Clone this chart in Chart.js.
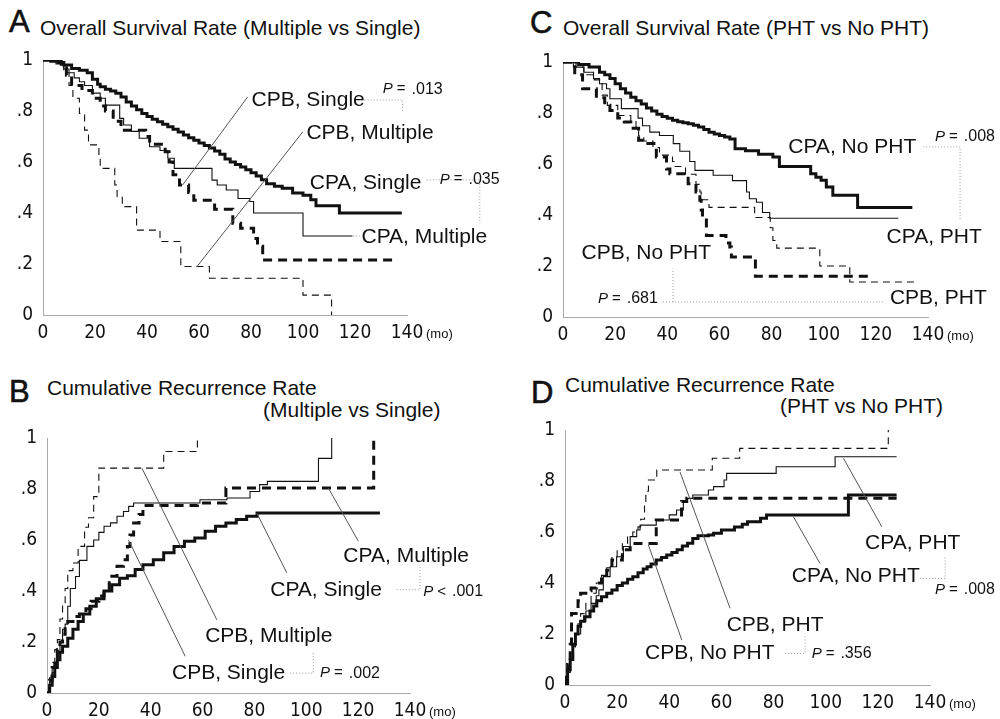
<!DOCTYPE html>
<html><head><meta charset="utf-8">
<script src="https://cdn.jsdelivr.net/npm/chart.js@4/dist/chart.umd.min.js"></script>
<style>
body{margin:0;background:#fff;width:1000px;height:719px;overflow:hidden;position:relative;font-family:"Liberation Sans",Arial,sans-serif;color:#111}
canvas{position:absolute}
.t{position:absolute;white-space:nowrap;font-size:21px;line-height:21px}
.L{position:absolute;font-size:31px;line-height:31px;-webkit-text-stroke:0.6px #111}
</style></head><body>
<div class="L" style="left:9px;top:6px">A</div>
<div class="t" style="left:40px;top:17px">Overall Survival Rate (Multiple vs Single)</div>
<div class="L" style="left:530px;top:7px">C</div>
<div class="t" style="left:563px;top:17px">Overall Survival Rate (PHT vs No PHT)</div>
<div class="L" style="left:9px;top:376px">B</div>
<div class="t" style="left:47px;top:377px">Cumulative Recurrence Rate</div>
<div class="t" style="left:263px;top:399px">(Multiple vs Single)</div>
<div class="L" style="left:531px;top:377px">D</div>
<div class="t" style="left:565px;top:374px">Cumulative Recurrence Rate</div>
<div class="t" style="left:780px;top:395px">(PHT vs No PHT)</div>
<canvas id="cA" width="500" height="360" style="left:0;top:0"></canvas>
<canvas id="cC" width="500" height="360" style="left:500px;top:0"></canvas>
<canvas id="cB" width="500" height="359" style="left:0;top:360px"></canvas>
<canvas id="cD" width="500" height="359" style="left:500px;top:360px"></canvas>
<script>
// ---------- tick labels ----------
const xTickValues = [0, 20, 40, 60, 80, 100, 120, 140];
const xTickLabels = ['0', '20', '40', '60', '80', '100', '120', '140'];
const yTickLabels = ['0', '.2', '.4', '.6', '.8', '1'];

// ---------- Panel A: Overall survival (Multiple vs Single) ----------
const A_cpaSingle_t = [0, 3, 6, 8, 11, 14, 17, 19, 21, 22, 24, 26, 28, 30, 32, 34, 36, 38, 40, 42, 44, 46, 48, 50, 52, 54, 56, 58, 60, 62, 64, 66, 68, 70, 72, 74, 76, 78, 80, 82, 84, 86, 89, 92, 96, 100, 103, 105, 114, 138];
const A_cpaSingle_v = [1, 0.995, 0.99, 0.98, 0.967, 0.96, 0.95, 0.925, 0.905, 0.895, 0.885, 0.878, 0.87, 0.855, 0.835, 0.82, 0.805, 0.79, 0.778, 0.768, 0.758, 0.748, 0.738, 0.728, 0.718, 0.706, 0.695, 0.685, 0.675, 0.665, 0.655, 0.643, 0.63, 0.612, 0.6, 0.59, 0.58, 0.57, 0.558, 0.545, 0.53, 0.515, 0.505, 0.497, 0.478, 0.47, 0.452, 0.428, 0.40, 0.40];
const A_cpaMulti_t = [0, 5, 8, 10, 12, 14, 16, 19, 22, 24, 29.5, 31, 34, 37, 41, 45, 48, 50.5, 65, 67, 70.5, 75, 79.5, 81, 100, 119];
const A_cpaMulti_v = [1, 0.985, 0.965, 0.95, 0.93, 0.915, 0.90, 0.87, 0.85, 0.823, 0.771, 0.745, 0.72, 0.693, 0.66, 0.645, 0.615, 0.575, 0.529, 0.51, 0.49, 0.457, 0.445, 0.40, 0.31, 0.31];
const A_cpbSingle_t = [0, 7, 9, 11, 15, 19, 22, 24, 27, 30, 39.5, 41, 47, 48.5, 50, 52.5, 56, 58, 66, 73, 76, 81, 82.5, 84.5, 136];
const A_cpbSingle_v = [1, 0.97, 0.94, 0.90, 0.88, 0.85, 0.82, 0.80, 0.76, 0.725, 0.70, 0.67, 0.64, 0.60, 0.55, 0.51, 0.48, 0.45, 0.415, 0.36, 0.34, 0.30, 0.27, 0.216, 0.216];
const A_cpbMulti_t = [0, 8, 10, 11.5, 14, 16, 17.5, 21.5, 22, 27.6, 28.5, 30.5, 36, 45, 53, 64, 100, 111];
const A_cpbMulti_v = [1, 0.95, 0.90, 0.85, 0.79, 0.725, 0.667, 0.62, 0.575, 0.51, 0.464, 0.425, 0.333, 0.288, 0.19, 0.144, 0.078, 0];

// ---------- Panel B: Cumulative recurrence (Multiple vs Single) ----------
const B_cpaSingle_t = [0, 1, 2, 3, 4, 5, 6, 8, 10, 12, 14, 16.5, 19, 22, 25, 28, 31, 34, 37, 41, 45, 49, 53, 57, 61, 65, 69, 73, 77, 81, 128.4];
const B_cpaSingle_v = [0, 0.03, 0.065, 0.1, 0.13, 0.16, 0.183, 0.215, 0.25, 0.28, 0.31, 0.34, 0.37, 0.40, 0.425, 0.45, 0.46, 0.484, 0.503, 0.523, 0.55, 0.575, 0.595, 0.608, 0.634, 0.654, 0.667, 0.68, 0.693, 0.706, 0.706];
const B_cpaMulti_t = [0, 1, 2, 3, 4, 5, 6, 7, 8, 9, 11, 12.5, 15.4, 18, 20, 22, 24.5, 27, 29.5, 31.5, 33.4, 59, 69.4, 78.3, 82, 85, 104.7, 109.8];
const B_cpaMulti_v = [0, 0.04, 0.08, 0.12, 0.16, 0.2, 0.25, 0.27, 0.34, 0.41, 0.457, 0.52, 0.575, 0.6, 0.63, 0.654, 0.667, 0.693, 0.712, 0.732, 0.745, 0.758, 0.765, 0.79, 0.817, 0.83, 0.92, 1.0];
const B_cpbSingle_t = [0, 1, 2, 3, 4, 5, 6, 7, 8, 10, 12.5, 15, 17, 20, 22, 24, 25, 27, 29.5, 31, 32, 33.4, 35.5, 37, 58, 69, 126];
const B_cpbSingle_v = [0, 0.05, 0.1, 0.13, 0.17, 0.2, 0.23, 0.26, 0.28, 0.30, 0.31, 0.33, 0.36, 0.38, 0.405, 0.44, 0.458, 0.497, 0.523, 0.575, 0.62, 0.667, 0.70, 0.735, 0.745, 0.804, 0.99];
const B_cpbMulti_t = [0, 1, 2, 3, 4, 5, 6, 7, 8, 10, 12, 14.5, 16, 18, 20, 45, 58];
const B_cpbMulti_v = [0, 0.06, 0.12, 0.17, 0.21, 0.29, 0.35, 0.41, 0.48, 0.51, 0.575, 0.65, 0.687, 0.77, 0.882, 0.947, 1.0];

// ---------- Panel C: Overall survival (PHT vs No PHT) ----------
const C_cpaNo_t = [0, 6, 10, 14, 16, 18, 20, 22, 24, 26, 28, 30, 32, 34, 36, 38, 40, 42, 44, 46, 48, 50, 52, 54, 56, 58, 60, 62, 64, 66, 70, 75, 80.5, 83, 95, 97, 99, 101, 103.5, 113, 134];
const C_cpaNo_v = [1, 0.99, 0.98, 0.96, 0.95, 0.935, 0.915, 0.895, 0.878, 0.862, 0.848, 0.835, 0.82, 0.808, 0.795, 0.786, 0.779, 0.772, 0.766, 0.762, 0.758, 0.752, 0.745, 0.735, 0.725, 0.718, 0.712, 0.706, 0.698, 0.66, 0.652, 0.638, 0.627, 0.59, 0.562, 0.548, 0.536, 0.51, 0.477, 0.429, 0.429];
const C_cpaPHT_t = [0, 5, 8, 11.7, 14, 16.7, 18, 22.4, 28.8, 30.5, 33.3, 37, 42.3, 44.8, 48.6, 50.6, 57.6, 65, 70.4, 71.5, 74.2, 76.5, 79.3, 128.6];
const C_cpaPHT_v = [1, 0.98, 0.96, 0.935, 0.915, 0.895, 0.856, 0.817, 0.78, 0.75, 0.725, 0.712, 0.68, 0.65, 0.61, 0.575, 0.556, 0.535, 0.49, 0.464, 0.45, 0.41, 0.387, 0.387];
const C_cpbNo_t = [0, 4.5, 7.5, 12.8, 16, 18, 21, 23.5, 26, 29, 31, 35.8, 39.7, 41, 48, 51, 52.5, 53, 53.5, 55, 62.5, 64, 64.6, 73.8, 119];
const C_cpbNo_v = [1, 0.95, 0.895, 0.86, 0.83, 0.81, 0.78, 0.765, 0.74, 0.693, 0.68, 0.627, 0.58, 0.562, 0.523, 0.49, 0.458, 0.42, 0.386, 0.32, 0.29, 0.275, 0.235, 0.16, 0.16];
const C_cpbPHT_t = [0, 4, 8, 12, 15, 17, 21, 26, 28, 29, 31, 34.5, 37, 42, 43, 47, 51, 52.5, 53, 56, 73.5, 79.5, 80.5, 82, 98.5, 110, 135];
const C_cpbPHT_v = [1, 0.98, 0.95, 0.93, 0.87, 0.83, 0.79, 0.77, 0.73, 0.71, 0.69, 0.665, 0.635, 0.61, 0.59, 0.56, 0.52, 0.49, 0.46, 0.43, 0.39, 0.35, 0.30, 0.27, 0.20, 0.137, 0.137];

// ---------- Panel D: Cumulative recurrence (PHT vs No PHT) ----------
const D_cpaNo_t = [0, 0.5, 1, 2, 3, 4, 5, 6, 7.5, 9.6, 11, 12.2, 14, 16, 18, 20, 22, 24, 26, 28, 30, 31.5, 33, 35, 37, 39, 41, 43, 45, 47, 49, 51, 55, 57, 60, 65, 68, 70, 75, 77.3, 108.7, 127.2];
const D_cpaNo_v = [0, 0.03, 0.06, 0.1, 0.16, 0.2, 0.23, 0.25, 0.268, 0.29, 0.31, 0.33, 0.346, 0.36, 0.373, 0.39, 0.40, 0.415, 0.425, 0.44, 0.455, 0.464, 0.475, 0.49, 0.50, 0.51, 0.52, 0.53, 0.545, 0.556, 0.575, 0.585, 0.588, 0.595, 0.608, 0.62, 0.63, 0.64, 0.654, 0.667, 0.745, 0.745];
const D_cpaPHT_t = [0, 1, 2, 3, 4, 6, 8, 10, 12, 13, 14.7, 17.3, 19.8, 22.4, 25, 27.5, 28.8, 35, 40, 42.8, 45.4, 46.7, 49, 55, 57, 61, 62, 81, 103.6, 127.2];
const D_cpaPHT_v = [0, 0.05, 0.1, 0.15, 0.2, 0.25, 0.29, 0.32, 0.35, 0.373, 0.425, 0.464, 0.503, 0.543, 0.582, 0.608, 0.627, 0.647, 0.667, 0.686, 0.719, 0.732, 0.745, 0.765, 0.778, 0.804, 0.83, 0.856, 0.895, 0.895];
const D_cpbNo_t = [0, 1, 2, 2.5, 5, 6, 8, 10, 12, 14, 16, 18, 22, 25, 35, 44.7, 46.7, 127.2];
const D_cpbNo_v = [0, 0.08, 0.16, 0.28, 0.33, 0.36, 0.37, 0.38, 0.40, 0.43, 0.45, 0.49, 0.53, 0.555, 0.647, 0.72, 0.732, 0.732];
const D_cpbPHT_t = [0, 1, 2, 3, 4, 5, 6, 8, 10, 12, 14, 16, 18, 20, 22, 24, 26, 28, 29, 30.5, 31, 32, 35.2, 56.5, 67, 124];
const D_cpbPHT_v = [0, 0.05, 0.1, 0.15, 0.2, 0.24, 0.28, 0.32, 0.36, 0.40, 0.43, 0.46, 0.50, 0.53, 0.555, 0.58, 0.60, 0.62, 0.65, 0.72, 0.76, 0.804, 0.843, 0.889, 0.928, 1.0];

// ---------- annotation texts (anchors in data units: months, rate) ----------
const A_labels = ['CPB, Single', 'CPB, Multiple', 'CPA, Single', 'CPA, Multiple'];
const A_labelAt = [[80.2, 0.843], [101.3, 0.714], [102.6, 0.518], [122.5, 0.306]];
const A_leaders = [[78.7, 0.855, 53.7, 0.51], [99.9, 0.718, 59.1, 0.188]];
const A_pOp = ['=', '='];
const A_pNum = ['.013', '.035'];
const A_pAt = [[130.7, 0.885], [152.6, 0.532]];
const A_brackets = [[123.7, 0.843, 138.3, 0.843, 138.3, 0.792], [147.6, 0.53, 168, 0.53, 168, 0.36], [119.2, 0.31, 121.8, 0.31]];

const B_labels = ['CPA, Multiple', 'CPA, Single', 'CPB, Multiple', 'CPB, Single'];
const B_labelAt = [[114.3, 0.536], [86.1, 0.405], [61, 0.222], [48.2, 0.078]];
const B_leaders = [[120.1, 0.595, 108.5, 0.804], [92.5, 0.471, 80.9, 0.706], [65.5, 0.287, 36.6, 0.882], [53.3, 0.144, 31.4, 0.601]];
const B_pOp = ['<', '='];
const B_pNum = ['.001', '.002'];
const B_pAt = [[145.1, 0.398], [105.3, 0.078]];
const B_brackets = [[134.9, 0.405, 143.9, 0.405, 143.9, 0.496], [93.8, 0.078, 102.7, 0.078, 102.7, 0.157]];

const C_labels = ['CPA, No PHT', 'CPA, PHT', 'CPB, No PHT', 'CPB, PHT'];
const C_labelAt = [[86.4, 0.667], [124.1, 0.314], [7.1, 0.249], [125.4, 0.072]];
const C_leaders = [];
const C_pOp = ['=', '='];
const C_pNum = ['.008', '.681'];
const C_pAt = [[142.7, 0.706], [13.4, 0.072]];
const C_brackets = [[138.2, 0.667, 152.3, 0.667, 152.3, 0.379], [38.4, 0.059, 122.8, 0.059], [42.2, 0.059, 42.2, 0.19]];

const D_labels = ['CPA, PHT', 'CPA, No PHT', 'CPB, PHT', 'CPB, No PHT'];
const D_labelAt = [[115.1, 0.556], [87, 0.425], [62, 0.235], [30.7, 0.124]];
const D_leaders = [[121.5, 0.621, 106.8, 0.889], [97.8, 0.477, 87.6, 0.66], [63.3, 0.301, 44.1, 0.836], [44.8, 0.176, 32, 0.549]];
const D_pOp = ['=', '='];
const D_pNum = ['.008', '.356'];
const D_pAt = [[141.9, 0.373], [94.6, 0.124]];
const D_brackets = [[136.2, 0.418, 145.8, 0.418, 145.8, 0.503], [84.4, 0.124, 92.1, 0.124, 92.1, 0.196]];

// ---------- rendering ----------
const FONT = '"Liberation Sans", Arial, sans-serif';
const TICKFONT = '"Liberation Sans Narrow", "DejaVu Sans Condensed", "Liberation Sans", sans-serif';
const STYLE = {
  thick:  {borderWidth: 3,   borderDash: []},
  thin:   {borderWidth: 1.1, borderDash: []},
  thickD: {borderWidth: 3,   borderDash: [9, 6]},
  thinD:  {borderWidth: 1.1, borderDash: [7, 5]}
};
function series(t, v, kind) {
  return Object.assign({
    data: t.map((x, i) => ({x: x, y: v[i]})),
    borderColor: '#111', backgroundColor: '#111',
    pointRadius: 0, fill: false, stepped: 'before', tension: 0
  }, STYLE[kind]);
}
function makeAnnot(a) {
  return {
    id: 'annot',
    afterDatasetsDraw(chart) {
      const ctx = chart.ctx, xs = chart.scales.x, ys = chart.scales.y;
      const X = v => xs.getPixelForValue(v), Y = v => ys.getPixelForValue(v);
      ctx.save();
      ctx.lineWidth = 1;
      ctx.strokeStyle = '#9a9a9a'; ctx.setLineDash([1, 2]);
      a.brackets.forEach(b => {
        ctx.beginPath();
        for (let i = 0; i < b.length; i += 2) {
          const px = X(b[i]), py = Y(b[i + 1]);
          if (i === 0) ctx.moveTo(px, py); else ctx.lineTo(px, py);
        }
        ctx.stroke();
      });
      ctx.setLineDash([]); ctx.strokeStyle = '#555';
      a.leaders.forEach(l => {
        ctx.beginPath(); ctx.moveTo(X(l[0]), Y(l[1])); ctx.lineTo(X(l[2]), Y(l[3])); ctx.stroke();
      });
      ctx.fillStyle = '#111'; ctx.textBaseline = 'middle'; ctx.textAlign = 'left';
      ctx.font = '21px ' + FONT;
      a.labels.forEach((s, i) => ctx.fillText(s, X(a.labelAt[i][0]), Y(a.labelAt[i][1])));
      a.pNum.forEach((s, i) => {
        let px = X(a.pAt[i][0]); const py = Y(a.pAt[i][1]);
        ctx.font = 'italic 15px ' + FONT; ctx.fillText('P', px, py);
        px += ctx.measureText('P').width + 4;
        ctx.font = '15px ' + FONT; ctx.fillText(a.pOp[i], px, py);
        px += ctx.measureText(a.pOp[i]).width + 6;
        ctx.font = '16px ' + FONT; ctx.fillText(s, px, py);
      });
      ctx.font = '13px ' + FONT;
      ctx.fillText('(mo)', X(140) + 19, chart.chartArea.bottom + 19);
      ctx.restore();
    }
  };
}
function build(id, area, datasets, a) {
  const cv = document.getElementById(id);
  const W = cv.width, H = cv.height;
  new Chart(cv, {
    type: 'line',
    data: {datasets: datasets},
    options: {
      responsive: false, animation: false, events: [],
      layout: {padding: {left: 0, top: area.top, right: W - area.right, bottom: 0}},
      plugins: {legend: {display: false}, tooltip: {enabled: false}},
      scales: {
        x: {
          type: 'linear', min: 0, max: 140,
          afterFit: s => { s.height = H - area.bottom; },
          afterBuildTicks: s => { s.ticks = xTickValues.map(v => ({value: v})); },
          grid: {display: false, drawTicks: false},
          border: {display: true, color: '#aaa', dash: [1, 2], width: 1},
          ticks: {padding: 7, color: '#111', font: {family: TICKFONT, size: 19}, maxRotation: 0, autoSkip: false,
                  callback: (v, i) => xTickLabels[i]}
        },
        y: {
          type: 'linear', min: 0, max: 1,
          afterFit: s => { s.width = area.left; },
          afterBuildTicks: s => { s.ticks = yTickLabels.map((t, i) => ({value: i * 0.2})); },
          grid: {display: false, drawTicks: false},
          border: {display: true, color: '#aaa', dash: [1, 2], width: 1},
          ticks: {padding: 10, color: '#111', font: {family: TICKFONT, size: 19},
                  callback: (v, i) => yTickLabels[i]}
        }
      }
    },
    plugins: [makeAnnot(a)]
  });
}

build('cA', {left: 43, top: 60, right: 407, bottom: 315}, [
  series(A_cpbMulti_t, A_cpbMulti_v, 'thinD'),
  series(A_cpbSingle_t, A_cpbSingle_v, 'thickD'),
  series(A_cpaMulti_t, A_cpaMulti_v, 'thin'),
  series(A_cpaSingle_t, A_cpaSingle_v, 'thick')
], {labels: A_labels, labelAt: A_labelAt, leaders: A_leaders, pOp: A_pOp, pNum: A_pNum, pAt: A_pAt, brackets: A_brackets});

build('cC', {left: 63, top: 62, right: 428, bottom: 317}, [
  series(C_cpbPHT_t, C_cpbPHT_v, 'thinD'),
  series(C_cpbNo_t, C_cpbNo_v, 'thickD'),
  series(C_cpaPHT_t, C_cpaPHT_v, 'thin'),
  series(C_cpaNo_t, C_cpaNo_v, 'thick')
], {labels: C_labels, labelAt: C_labelAt, leaders: C_leaders, pOp: C_pOp, pNum: C_pNum, pAt: C_pAt, brackets: C_brackets});

build('cB', {left: 47, top: 78, right: 410, bottom: 333}, [
  series(B_cpbMulti_t, B_cpbMulti_v, 'thinD'),
  series(B_cpbSingle_t, B_cpbSingle_v, 'thickD'),
  series(B_cpaMulti_t, B_cpaMulti_v, 'thin'),
  series(B_cpaSingle_t, B_cpaSingle_v, 'thick')
], {labels: B_labels, labelAt: B_labelAt, leaders: B_leaders, pOp: B_pOp, pNum: B_pNum, pAt: B_pAt, brackets: B_brackets});

build('cD', {left: 65, top: 70, right: 430, bottom: 325}, [
  series(D_cpbPHT_t, D_cpbPHT_v, 'thinD'),
  series(D_cpbNo_t, D_cpbNo_v, 'thickD'),
  series(D_cpaPHT_t, D_cpaPHT_v, 'thin'),
  series(D_cpaNo_t, D_cpaNo_v, 'thick')
], {labels: D_labels, labelAt: D_labelAt, leaders: D_leaders, pOp: D_pOp, pNum: D_pNum, pAt: D_pAt, brackets: D_brackets});
</script>
</body></html>
